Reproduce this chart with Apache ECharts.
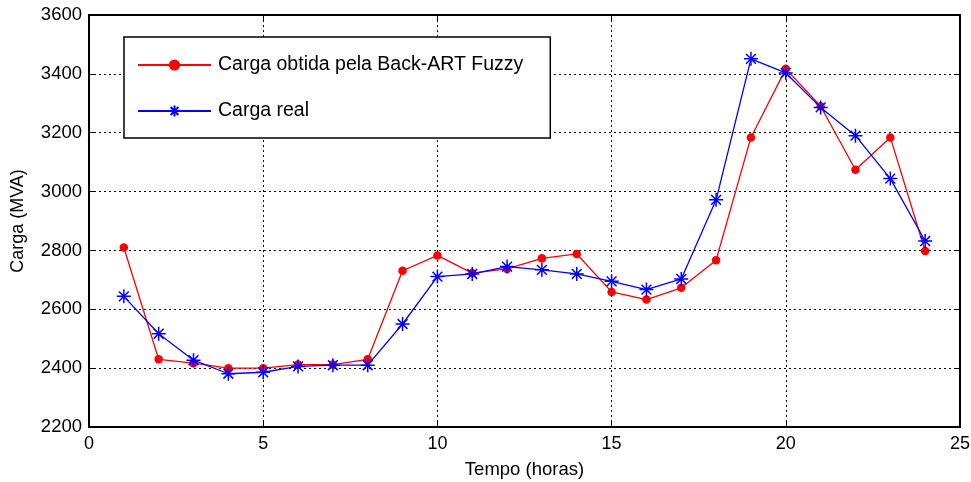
<!DOCTYPE html>
<html>
<head>
<meta charset="utf-8">
<script src="https://cdn.jsdelivr.net/npm/echarts@6/dist/echarts.min.js"></script>
<style>
html,body{margin:0;padding:0;background:#fff;}
#chart{width:971px;height:482px;}
</style>
</head>
<body>
<div id="chart"></div>
<script>
var hours = [1,2,3,4,5,6,7,8,9,10,11,12,13,14,15,16,17,18,19,20,21,22,23,24];
var cargaFuzzy = [2810,2430,2417,2400,2400,2412,2412,2430,2731,2783,2723,2737,2773,2788,2659,2633,2673,2767,3184,3417,3290,3074,3184,2798];
var cargaReal = [2644,2517,2427,2381,2386,2406,2410,2410,2550,2711,2720,2745,2734,2720,2695,2667,2703,2972,3451,3403,3286,3190,3044,2832];
var seriesNames = ['Carga obtida pela Back-ART Fuzzy','Carga real'];
var xTitle = 'Tempo (horas)';
var yTitle = 'Carga (MVA)';

function pairs(xs, ys){ return xs.map(function(x,i){ return [x, ys[i]]; }); }

var FONT = 'Liberation Sans, Arial, sans-serif';
var star = 'path://M0,-10L0,10M-10,0L10,0M-7,-7L7,7M-7,7L7,-7';

var chart = echarts.init(document.getElementById('chart'), null, {renderer:'canvas'});
var grid = {left:89, right:11, top:15, bottom:55, containLabel:false, outerBoundsMode:'none'};
var plain = function(v){ return String(v); };
chart.setOption({
  animation:false,
  backgroundColor:'#fff',
  grid:grid,
  legend:{
    orient:'vertical',
    left:124, top:37,
    padding:[18,27,17,13],
    itemGap:26,
    itemWidth:73, itemHeight:14,
    borderColor:'#000', borderWidth:1.5,
    backgroundColor:'#fff',
    textStyle:{fontSize:19.5, color:'#000', fontFamily:FONT, padding:[0,0,0,2]},
    data:seriesNames
  },
  xAxis:[{
    type:'value', min:0, max:25, interval:5,
    name:xTitle, nameLocation:'middle', nameGap:33,
    nameTextStyle:{fontSize:18.5, color:'#000', fontFamily:FONT},
    axisLine:{show:true, onZero:false, lineStyle:{color:'#000', width:2}},
    axisTick:{show:true, inside:true, length:5, lineStyle:{color:'#000'}},
    axisLabel:{margin:8, color:'#000', fontSize:18, fontFamily:FONT, formatter:plain},
    splitLine:{show:true, lineStyle:{color:'#000', width:1, type:[2,3]}}
  },{
    type:'value', min:0, max:25, interval:5, position:'top',
    axisLine:{show:true, onZero:false, lineStyle:{color:'#000', width:2}},
    axisTick:{show:true, inside:true, length:5, lineStyle:{color:'#000'}},
    axisLabel:{show:false}, splitLine:{show:false}
  }],
  yAxis:[{
    type:'value', min:2200, max:3600, interval:200,
    name:yTitle, nameLocation:'middle', nameGap:62, nameRotate:90,
    nameTextStyle:{fontSize:18, color:'#000', fontFamily:FONT},
    axisLine:{show:true, onZero:false, lineStyle:{color:'#000', width:2}},
    axisTick:{show:true, inside:true, length:5, lineStyle:{color:'#000'}},
    axisLabel:{margin:7, color:'#000', fontSize:18.5, fontFamily:FONT, formatter:plain},
    splitLine:{show:true, lineStyle:{color:'#000', width:1, type:[2,3]}}
  },{
    type:'value', min:2200, max:3600, interval:200, position:'right',
    axisLine:{show:true, onZero:false, lineStyle:{color:'#000', width:2}},
    axisTick:{show:true, inside:true, length:5, lineStyle:{color:'#000'}},
    axisLabel:{show:false}, splitLine:{show:false}
  }],
  series:[{
    name:seriesNames[0], type:'line', data:pairs(hours, cargaFuzzy),
    symbol:'circle', symbolSize:8.5,
    lineStyle:{color:'#ff0000', width:1.3},
    itemStyle:{color:'#ff0000', borderWidth:0},
    z:2
  },{
    name:seriesNames[1], type:'line', data:pairs(hours, cargaReal),
    symbol:star, symbolSize:14,
    lineStyle:{color:'#0000ff', width:1.3},
    itemStyle:{color:'none', borderColor:'#0000ff', borderWidth:1.5},
    z:3
  }]
});
</script>
</body>
</html>
